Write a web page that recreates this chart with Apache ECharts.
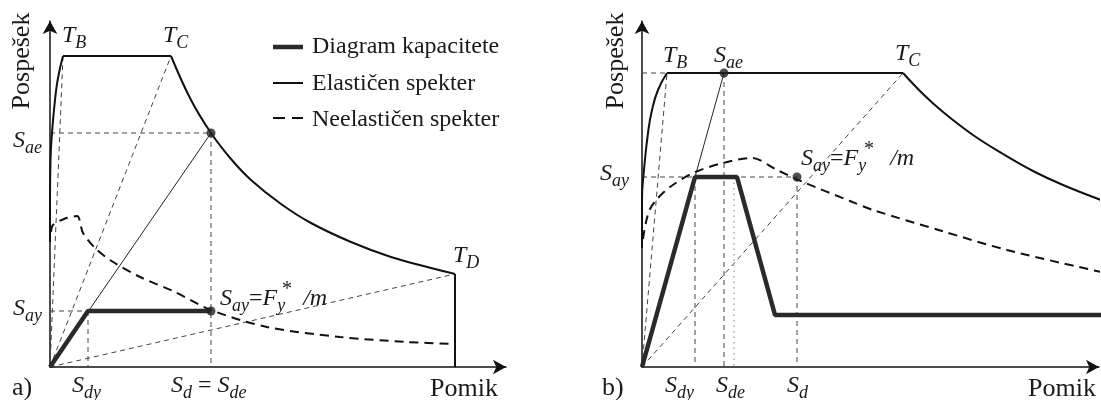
<!DOCTYPE html>
<html>
<head>
<meta charset="utf-8">
<script src="https://cdn.jsdelivr.net/npm/echarts@6/dist/echarts.min.js"></script>
<style>
html, body { margin: 0; padding: 0; background: #fff; }
#chart { width: 1101px; height: 400px; }
</style>
</head>
<body>
<div id="chart"></div>
<script>
// a) elasticni spekter: narascajoca veja, plato TB-TC, padajoca veja TC-TD, navpicnica pri TD
var elasticRiseA = [[0, 125], [0, 167], [0.5, 207], [2, 234], [5, 267], [8, 289], [13, 311]];
var elasticPlateauA = [[13, 311], [121, 311]];
var elasticFallA = [[121, 311], [141, 267], [161, 234], [181, 208], [201, 187], [231, 163], [261, 144], [301, 125], [341, 110], [381, 99], [405, 93]];
var elasticDropA = [[405, 93], [405, 0]];
var inelasticA = [[1, 135], [3, 142], [14, 148], [27, 151], [33, 134], [45, 119], [60, 107], [90, 90], [123, 76], [161, 57], [217, 40], [290, 30], [357, 25], [405, 23]];
var capacityA = [[0, 0], [38, 56], [161, 56]];
var periodA = [[0, 0], [161, 234]];
var pointsA = [[161, 234], [161, 56]];
var guidesA = [
    [[0, 234], [161, 234]],
    [[161, 234], [161, 0]],
    [[0, 56], [38, 56]],
    [[38, 56], [38, 0]],
    [[0, 0], [13, 311]],
    [[0, 0], [121, 311]],
    [[0, 0], [405, 93]]
];

// b)
var elasticRiseB = [[0, 119], [0, 167], [2, 197], [6, 234], [10, 257], [16, 277], [25, 294]];
var elasticPlateauB = [[25, 294], [261, 294]];
var elasticFallB = [[261, 294], [281, 273], [301, 255], [331, 232], [361, 213], [391, 196], [421, 182], [459, 167]];
var inelasticB = [[1, 128], [4, 145], [8, 158], [15, 168], [28, 180], [51, 194], [81, 204], [110, 209], [135, 197], [161, 185], [208, 166], [231, 157], [300, 136], [365, 117], [459, 95]];
var capacityB = [[0, 0], [53, 190], [95, 190], [133, 52], [459, 52]];
var periodB = [[0, 0], [82, 294]];
var pointsB = [[82, 294], [155, 190]];
var guidesB = [
    [[0, 294], [25, 294]],
    [[0, 0], [25, 294]],
    [[0, 0], [261, 294]],
    [[0, 190], [155, 190]],
    [[53, 190], [53, 0]],
    [[82, 294], [82, 0]],
    [[155, 190], [155, 0]]
];
var dottedB = [[92, 190], [92, 0]];

var legendNames = ['Diagram kapacitete', 'Elastičen spekter', 'Neelastičen spekter'];

var FONT = '"Liberation Serif", "Times New Roman", serif';
var INK = '#1a1a1a';

var elasticStyle = {color: '#111', width: 2};
var capacityStyle = {color: '#2a2a2a', width: 4.5};
var inelasticStyle = {color: '#111', width: 2, type: [9, 6]};
var guideStyle = {color: '#444', width: 1, type: [5, 4]};
var thinStyle = {color: '#222', width: 1};
var dottedStyle = {color: '#aaa', width: 1.5, type: [1.5, 4]};

function xAx(grid, max) {
    return {
        gridIndex: grid, type: 'value', min: 0, max: max,
        axisLine: {show: true, onZero: false, symbol: ['none', 'arrow'], symbolSize: [11, 13], lineStyle: {color: '#111', width: 1.5}},
        axisTick: {show: false}, axisLabel: {show: false}, splitLine: {show: false}
    };
}

function yAx(grid, max) {
    return xAx(grid, max);
}

function line(data, grid, style, smooth, z) {
    return {
        type: 'line', xAxisIndex: grid, yAxisIndex: grid, data: data,
        smooth: smooth || false, symbol: 'none', showSymbol: false,
        clip: false, silent: true, lineStyle: style, z: z, animation: false
    };
}

function dots(data, grid) {
    return {
        type: 'scatter', xAxisIndex: grid, yAxisIndex: grid, data: data,
        symbolSize: 9, itemStyle: {color: '#222'}, clip: false, silent: true, z: 10
    };
}

var series = [];
guidesA.forEach(function (g) { series.push(line(g, 0, guideStyle, false, 1)); });
guidesB.forEach(function (g) { series.push(line(g, 1, guideStyle, false, 1)); });
series.push(line(dottedB, 1, dottedStyle, false, 1));
series.push(line(periodA, 0, thinStyle, false, 2));
series.push(line(periodB, 1, thinStyle, false, 2));
series.push(line(elasticRiseA, 0, elasticStyle, 0.5, 3));
series.push(line(elasticPlateauA, 0, elasticStyle, false, 3));
series.push(line(elasticFallA, 0, elasticStyle, 0.4, 3));
series.push(line(elasticDropA, 0, elasticStyle, false, 3));
series.push(line(elasticRiseB, 1, elasticStyle, 0.5, 3));
series.push(line(elasticPlateauB, 1, elasticStyle, false, 3));
series.push(line(elasticFallB, 1, elasticStyle, 0.4, 3));
series.push(line(inelasticA, 0, inelasticStyle, 0.3, 4));
series.push(line(inelasticB, 1, inelasticStyle, 0.3, 4));
series.push(line(capacityA, 0, capacityStyle, false, 5));
series.push(line(capacityB, 1, capacityStyle, false, 5));
series.push(dots(pointsA, 0));
series.push(dots(pointsB, 1));

// besedila z indeksi
var rich = {
    i: {fontFamily: FONT, fontStyle: 'italic', fontSize: 24, fill: INK, padding: [0, 0, 4, 0], verticalAlign: 'bottom'},
    s: {fontFamily: FONT, fontStyle: 'italic', fontSize: 18, fill: INK, verticalAlign: 'bottom'},
    r: {fontFamily: FONT, fontSize: 24, fill: INK, padding: [0, 0, 4, 0], verticalAlign: 'bottom'}
};

function math(x, base, text) {
    return {
        type: 'text', x: x, y: base + 7, silent: true, z: 20,
        style: {text: text, rich: rich, align: 'left', verticalAlign: 'bottom', fill: INK, font: '24px ' + FONT}
    };
}

function plain(x, y, text, size, align, rot) {
    return {
        type: 'text', x: x, y: y, rotation: rot || 0, silent: true, z: 20,
        style: {text: text, font: size + 'px ' + FONT, fill: INK, align: align || 'left', verticalAlign: 'middle'}
    };
}

function star(x, y) {
    return {
        type: 'text', x: x, y: y, silent: true, z: 20,
        style: {text: '*', font: '20px ' + FONT, fill: INK, align: 'center', verticalAlign: 'middle'}
    };
}

var graphic = [
    // a)
    plain(22, 61, 'Pospešek', 26, 'center', Math.PI / 2),
    math(62, 45, '{i|T}{s|B}'),
    math(163, 45, '{i|T}{s|C}'),
    math(13, 150, '{i|S}{s|ae}'),
    math(13, 318, '{i|S}{s|ay}'),
    math(453, 265, '{i|T}{s|D}'),
    math(220, 308, '{i|S}{s|ay}{r|=}{i|F}{s|y}{r|   }{i|/m}'),
    star(287, 290),
    plain(12, 388, 'a)', 26),
    math(72, 395, '{i|S}{s|dy}'),
    math(171, 395, '{i|S}{s|d}{r| = }{i|S}{s|de}'),
    plain(430, 389, 'Pomik', 26),
    // legenda
    {type: 'line', silent: true, shape: {x1: 273, y1: 47, x2: 303, y2: 47}, style: {stroke: '#2a2a2a', lineWidth: 4.5}},
    {type: 'line', silent: true, shape: {x1: 273, y1: 83, x2: 303, y2: 83}, style: {stroke: '#111', lineWidth: 2}},
    {type: 'line', silent: true, shape: {x1: 273, y1: 118, x2: 303, y2: 118}, style: {stroke: '#111', lineWidth: 2, lineDash: [12, 7]}},
    plain(312, 47, legendNames[0], 24),
    plain(312, 84, legendNames[1], 24),
    plain(312, 120, legendNames[2], 24),
    // b)
    plain(616, 61, 'Pospešek', 26, 'center', Math.PI / 2),
    math(663, 65, '{i|T}{s|B}'),
    math(714, 65, '{i|S}{s|ae}'),
    math(895, 63, '{i|T}{s|C}'),
    math(600, 183, '{i|S}{s|ay}'),
    math(801, 168, '{i|S}{s|ay}{r|=}{i|F}{s|y}{r|    }{i|/m}'),
    star(869, 150),
    plain(602, 388, 'b)', 26),
    math(665, 395, '{i|S}{s|dy}'),
    math(716, 395, '{i|S}{s|de}'),
    math(787, 395, '{i|S}{s|d}'),
    plain(1028, 389, 'Pomik', 26)
];

var myChart = echarts.init(document.getElementById('chart'), null, {renderer: 'canvas'});
var option = {
    animation: false,
    backgroundColor: '#fff',
    grid: [
        {left: 50, top: 21, width: 456, height: 346, outerBoundsMode: 'none'},
        {left: 642, top: 21, width: 457, height: 346, outerBoundsMode: 'none'}
    ],
    xAxis: [xAx(0, 456), xAx(1, 457)],
    yAxis: [yAx(0, 346), yAx(1, 346)],
    series: series,
    graphic: graphic
};
myChart.setOption(option);
</script>
</body>
</html>
